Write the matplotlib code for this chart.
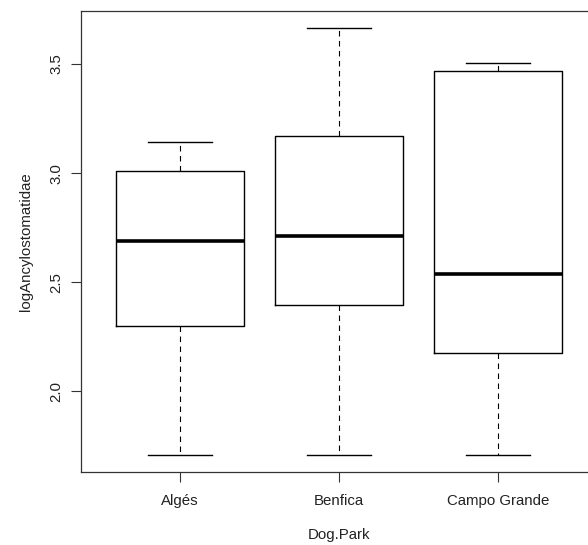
import matplotlib
matplotlib.use("Agg")
import matplotlib.pyplot as plt

# boxplot stats
parks = ["Algés", "Benfica", "Campo Grande"]
whislo = [1.708, 1.708, 1.708]
q1 = [2.298, 2.395, 2.174]
med = [2.691, 2.713, 2.537]
q3 = [3.009, 3.171, 3.469]
whishi = [3.143, 3.666, 3.505]
yticks = [2.0, 2.5, 3.0, 3.5]

plt.rcParams['font.family'] = ['Liberation Sans', 'DejaVu Sans']

stats = []
for i in range(len(parks)):
    stats.append(dict(label=parks[i], whislo=whislo[i], q1=q1[i], med=med[i],
                      q3=q3[i], whishi=whishi[i], fliers=[]))

fig = plt.figure(figsize=(5.88, 5.45), dpi=100)
# the right spine sits just past the right edge of the picture
ax = fig.add_axes([0.1386, 0.134, 0.876, 0.846])

ax.bxp(stats, positions=[1, 2, 3], widths=0.8, showfliers=False,
       boxprops=dict(color='black', linewidth=1.0),
       medianprops=dict(color='black', linewidth=2.6, solid_capstyle='butt'),
       whiskerprops=dict(color='black', linewidth=0.8, linestyle=(0, (5, 4))),
       capprops=dict(color='black', linewidth=1.0),
       capwidths=0.4)

ax.set_xlim(0.38, 3.62)
ax.set_ylim(1.63, 3.744)

ax.set_yticks(yticks)
ax.set_yticklabels(["%.1f" % t for t in yticks], rotation=90, va='center')
ax.set_xticks([1, 2, 3])
ax.set_xticklabels(parks)

ax.tick_params(direction='out', length=7, width=0.8, colors='#333333',
               labelsize=10.8, labelcolor='#222222')
ax.tick_params(axis='y', pad=6)
ax.tick_params(axis='x', pad=9)

for s in ax.spines.values():
    s.set_linewidth(0.9)
    s.set_color('#333333')

ax.set_xlabel("Dog.Park", fontsize=10.8, color='#222222', va='center')
ax.set_ylabel("logAncylostomatidae", fontsize=10.8, color='#222222', va='center')
ax.xaxis.set_label_coords(0.5, -0.1366)
ax.yaxis.set_label_coords(-0.1078, 0.5)

fig.savefig("out.png", dpi=100)
